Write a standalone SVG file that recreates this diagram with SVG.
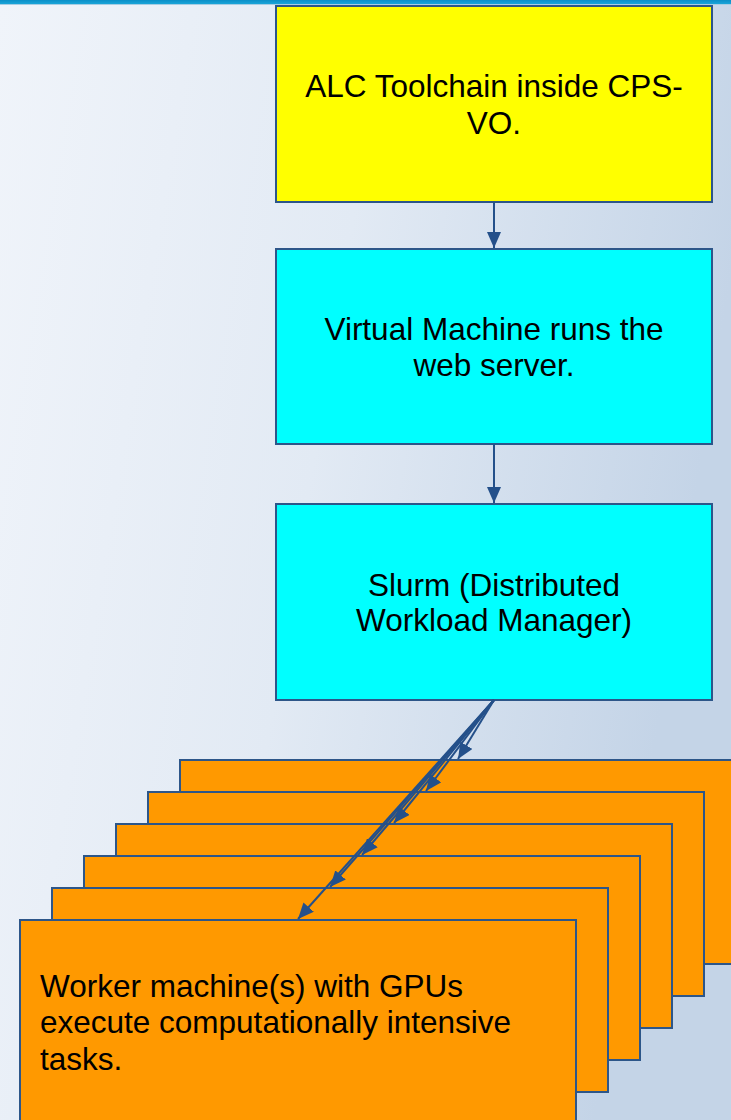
<svg xmlns="http://www.w3.org/2000/svg" width="731" height="1120" viewBox="0 0 731 1120">
  <defs>
    <linearGradient id="bg" x1="0" y1="0" x2="1" y2="0.25">
      <stop offset="0" stop-color="#F0F4FA"/>
      <stop offset="0.5" stop-color="#E2EAF4"/>
      <stop offset="1" stop-color="#C4D4E7"/>
    </linearGradient>
    <linearGradient id="bar" x1="0" y1="0" x2="0" y2="1">
      <stop offset="0" stop-color="#0A8FC8"/>
      <stop offset="1" stop-color="#1AA5D8"/>
    </linearGradient>
    <marker id="ah" markerUnits="userSpaceOnUse" markerWidth="16" markerHeight="14" refX="16" refY="7" orient="auto">
      <path d="M0,0 L16,7 L0,14 z" fill="#24508A"/>
    </marker>
    <style>
      .box { stroke: #2D5689; stroke-width: 2; }
      .yellow { fill: #FFFF00; }
      .cyan { fill: #00FFFF; }
      .orange { fill: #FF9900; }
      .lbl { font-family: "Liberation Sans", Arial, sans-serif; font-size: 31.5px; fill: #000000; }
      .mid { text-anchor: middle; }
      .conn { stroke: #24508A; stroke-width: 2; fill: none; marker-end: url(#ah); }
    </style>
  </defs>

  <rect x="0" y="0" width="731" height="1120" fill="url(#bg)"/>
  <rect x="0" y="0" width="731" height="4" fill="url(#bar)"/>
  <rect x="0" y="4" width="731" height="1" fill="#A6CDE3"/>

  <g id="node-alc">
    <rect class="box yellow" x="276" y="6" width="436" height="196"/>
    <text class="lbl mid" x="494" y="97">ALC Toolchain inside CPS-</text>
    <text class="lbl mid" x="494" y="134">VO.</text>
  </g>

  <g id="node-vm">
    <rect class="box cyan" x="276" y="249" width="436" height="195"/>
    <text class="lbl mid" x="494" y="340">Virtual Machine runs the</text>
    <text class="lbl mid" x="494" y="376">web server.</text>
  </g>

  <g id="node-slurm">
    <rect class="box cyan" x="276" y="504" width="436" height="196"/>
    <text class="lbl mid" x="494" y="596">Slurm (Distributed</text>
    <text class="lbl mid" x="494" y="631">Workload Manager)</text>
  </g>

  <g id="node-worker-6">
    <rect class="box orange" x="180" y="760" width="556" height="204"/>
  </g>
  <g id="node-worker-5">
    <rect class="box orange" x="148" y="792" width="556" height="204"/>
  </g>
  <g id="node-worker-4">
    <rect class="box orange" x="116" y="824" width="556" height="204"/>
  </g>
  <g id="node-worker-3">
    <rect class="box orange" x="84" y="856" width="556" height="204"/>
  </g>
  <g id="node-worker-2">
    <rect class="box orange" x="52" y="888" width="556" height="204"/>
  </g>
  <g id="node-worker-1">
    <rect class="box orange" x="20" y="920" width="556" height="204"/>
    <text class="lbl" x="40" y="997">Worker machine(s) with GPUs</text>
    <text class="lbl" x="40" y="1033">execute computationally intensive</text>
    <text class="lbl" x="40" y="1070">tasks.</text>
  </g>

  <g id="connectors">
    <line class="conn" x1="494" y1="202" x2="494" y2="248"/>
    <line class="conn" x1="494" y1="444" x2="494" y2="503"/>
    <line class="conn" x1="494" y1="700" x2="458" y2="759"/>
    <line class="conn" x1="494" y1="700" x2="426" y2="791"/>
    <line class="conn" x1="494" y1="700" x2="394" y2="823"/>
    <line class="conn" x1="494" y1="700" x2="362" y2="855"/>
    <line class="conn" x1="494" y1="700" x2="330" y2="887"/>
    <line class="conn" x1="494" y1="700" x2="298" y2="919"/>
  </g>
</svg>
